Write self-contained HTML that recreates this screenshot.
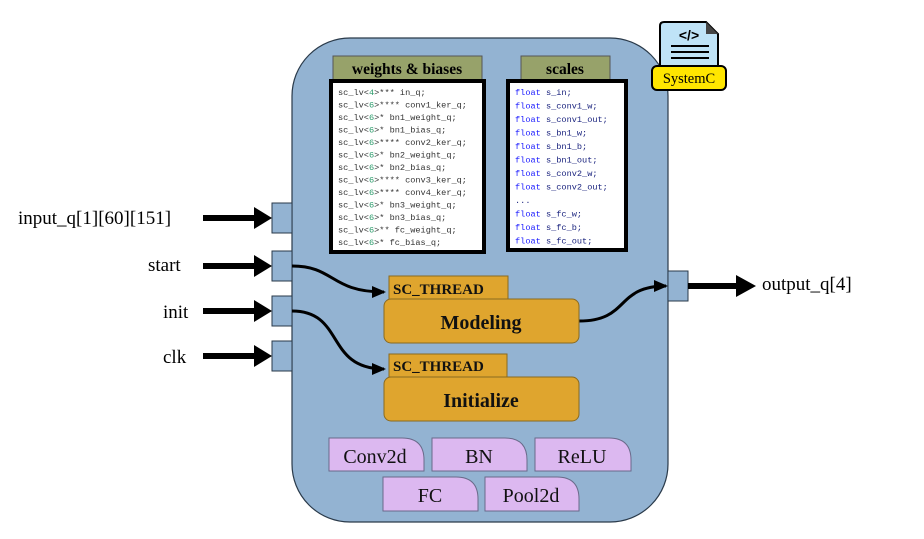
<!DOCTYPE html>
<html><head><style>
body{margin:0;background:#fff}
svg text{font-family:"Liberation Serif",serif}
svg .m text{font-family:"Liberation Mono",monospace;font-size:8.6px}
</style></head><body>
<svg width="924" height="534" viewBox="0 0 924 534" xmlns="http://www.w3.org/2000/svg">
<defs>
<marker id="ah" markerWidth="14" markerHeight="12" refX="12" refY="6" orient="auto" markerUnits="userSpaceOnUse"><path d="M0,0 L14,6 L0,12 z" fill="#000"/></marker>
</defs>
<rect x="292" y="38" width="376" height="484" rx="58" fill="#93b3d2" stroke="#2a3a4a" stroke-width="1.2"/>
<g fill="#93b3d2" stroke="#2a3a4a" stroke-width="1">
<rect x="272" y="203" width="20" height="30"/><rect x="272" y="251" width="20" height="30"/>
<rect x="272" y="296" width="20" height="30"/><rect x="272" y="341" width="20" height="30"/>
<rect x="668" y="271" width="20" height="30"/>
</g>
<g stroke="#000" stroke-width="6">
<line x1="203" y1="218" x2="258" y2="218"/><line x1="203" y1="266" x2="258" y2="266"/>
<line x1="203" y1="311" x2="258" y2="311"/><line x1="203" y1="356" x2="258" y2="356"/>
<line x1="688" y1="286" x2="740" y2="286"/>
</g>
<g fill="#000">
<path d="M254,207 L272,218 L254,229z"/><path d="M254,255 L272,266 L254,277z"/>
<path d="M254,300 L272,311 L254,322z"/><path d="M254,345 L272,356 L254,367z"/>
<path d="M736,275 L756,286 L736,297z"/>
</g>
<g font-size="19" fill="#000">
<text x="18" y="224">input_q[1][60][151]</text>
<text x="148" y="271">start</text>
<text x="163" y="318">init</text>
<text x="163" y="363">clk</text>
<text x="762" y="290">output_q[4]</text>
</g>
<g fill="none" stroke="#000" stroke-width="3">
<path d="M292,266 C335,266 330,292 384,292" marker-end="url(#ah)"/>
<path d="M292,311 C345,311 325,369 384,369" marker-end="url(#ah)"/>
<path d="M579,321 C630,321 615,286 666,286" marker-end="url(#ah)"/>
</g>
<rect x="333" y="56" width="149" height="24" fill="#97a26a" stroke="#555" stroke-width="1"/>
<text x="407" y="74" font-size="15.5" font-weight="bold" text-anchor="middle">weights &amp; biases</text>
<rect x="331" y="81" width="153" height="171" fill="#fff" stroke="#000" stroke-width="4"/>
<g class="m" fill="#333">
<text x="338" y="95">sc_lv&lt;<tspan fill="#2a9a6a">4</tspan>&gt;*** in_q;</text>
<text x="338" y="107.5">sc_lv&lt;<tspan fill="#2a9a6a">6</tspan>&gt;**** conv1_ker_q;</text>
<text x="338" y="120">sc_lv&lt;<tspan fill="#2a9a6a">6</tspan>&gt;* bn1_weight_q;</text>
<text x="338" y="132.5">sc_lv&lt;<tspan fill="#2a9a6a">6</tspan>&gt;* bn1_bias_q;</text>
<text x="338" y="145">sc_lv&lt;<tspan fill="#2a9a6a">6</tspan>&gt;**** conv2_ker_q;</text>
<text x="338" y="157.5">sc_lv&lt;<tspan fill="#2a9a6a">6</tspan>&gt;* bn2_weight_q;</text>
<text x="338" y="170">sc_lv&lt;<tspan fill="#2a9a6a">6</tspan>&gt;* bn2_bias_q;</text>
<text x="338" y="182.5">sc_lv&lt;<tspan fill="#2a9a6a">6</tspan>&gt;**** conv3_ker_q;</text>
<text x="338" y="195">sc_lv&lt;<tspan fill="#2a9a6a">6</tspan>&gt;**** conv4_ker_q;</text>
<text x="338" y="207.5">sc_lv&lt;<tspan fill="#2a9a6a">6</tspan>&gt;* bn3_weight_q;</text>
<text x="338" y="220">sc_lv&lt;<tspan fill="#2a9a6a">6</tspan>&gt;* bn3_bias_q;</text>
<text x="338" y="232.5">sc_lv&lt;<tspan fill="#2a9a6a">6</tspan>&gt;** fc_weight_q;</text>
<text x="338" y="245">sc_lv&lt;<tspan fill="#2a9a6a">6</tspan>&gt;* fc_bias_q;</text>
</g>
<rect x="521" y="56" width="89" height="24" fill="#97a26a" stroke="#555" stroke-width="1"/>
<text x="565" y="74" font-size="15.5" font-weight="bold" text-anchor="middle">scales</text>
<rect x="508" y="81" width="118" height="169" fill="#fff" stroke="#000" stroke-width="4"/>
<g class="m" fill="#1a237e">
<text x="515" y="95"><tspan fill="#1a1aff">float</tspan> s_in;</text>
<text x="515" y="108.5"><tspan fill="#1a1aff">float</tspan> s_conv1_w;</text>
<text x="515" y="122"><tspan fill="#1a1aff">float</tspan> s_conv1_out;</text>
<text x="515" y="135.5"><tspan fill="#1a1aff">float</tspan> s_bn1_w;</text>
<text x="515" y="149"><tspan fill="#1a1aff">float</tspan> s_bn1_b;</text>
<text x="515" y="162.5"><tspan fill="#1a1aff">float</tspan> s_bn1_out;</text>
<text x="515" y="176"><tspan fill="#1a1aff">float</tspan> s_conv2_w;</text>
<text x="515" y="189.5"><tspan fill="#1a1aff">float</tspan> s_conv2_out;</text>
<text x="515" y="203">...</text>
<text x="515" y="216.5"><tspan fill="#1a1aff">float</tspan> s_fc_w;</text>
<text x="515" y="230"><tspan fill="#1a1aff">float</tspan> s_fc_b;</text>
<text x="515" y="243.5"><tspan fill="#1a1aff">float</tspan> s_fc_out;</text>
</g>
<g fill="#dfa52e" stroke="#8a6a20" stroke-width="1">
<rect x="389" y="276" width="119" height="24"/>
<rect x="384" y="299" width="195" height="44" rx="7"/>
<rect x="389" y="354" width="118" height="23"/>
<rect x="384" y="377" width="195" height="44" rx="7"/>
</g>
<g font-weight="bold" fill="#111">
<text x="393" y="294" font-size="15">SC_THREAD</text>
<text x="481" y="329" font-size="20" text-anchor="middle">Modeling</text>
<text x="393" y="371" font-size="15">SC_THREAD</text>
<text x="481" y="407" font-size="20" text-anchor="middle">Initialize</text>
</g>
<g fill="#dcb8f0" stroke="#6a6a8a" stroke-width="1">
<path d="M329,438 H402 Q424,438 424,460 V471 H329Z"/>
<path d="M432,438 H505 Q527,438 527,460 V471 H432Z"/>
<path d="M535,438 H609 Q631,438 631,460 V471 H535Z"/>
<path d="M383,477 H456 Q478,477 478,499 V511 H383Z"/>
<path d="M485,477 H557 Q579,477 579,499 V511 H485Z"/>
</g>
<g font-size="20" text-anchor="middle" fill="#111">
<text x="375" y="463">Conv2d</text><text x="479" y="463">BN</text><text x="582" y="463">ReLU</text>
<text x="430" y="502">FC</text><text x="531" y="502">Pool2d</text>
</g>
<path d="M660,26 Q660,22 664,22 H706 L718,34 V66 H660Z" fill="#bfe3f7" stroke="#000" stroke-width="2"/>
<path d="M706,22 L706,34 L718,34Z" fill="#444"/>
<text x="689" y="40" font-size="14" font-weight="bold" text-anchor="middle" style="font-family:'Liberation Sans',sans-serif">&lt;/&gt;</text>
<g stroke="#000" stroke-width="2"><line x1="671" y1="46" x2="709" y2="46"/><line x1="671" y1="52" x2="709" y2="52"/><line x1="671" y1="58" x2="709" y2="58"/></g>
<rect x="652" y="66" width="74" height="24" rx="5" fill="#ffe600" stroke="#000" stroke-width="2"/>
<text x="689" y="83" font-size="14.5" text-anchor="middle">SystemC</text>
</svg>
</body></html>
